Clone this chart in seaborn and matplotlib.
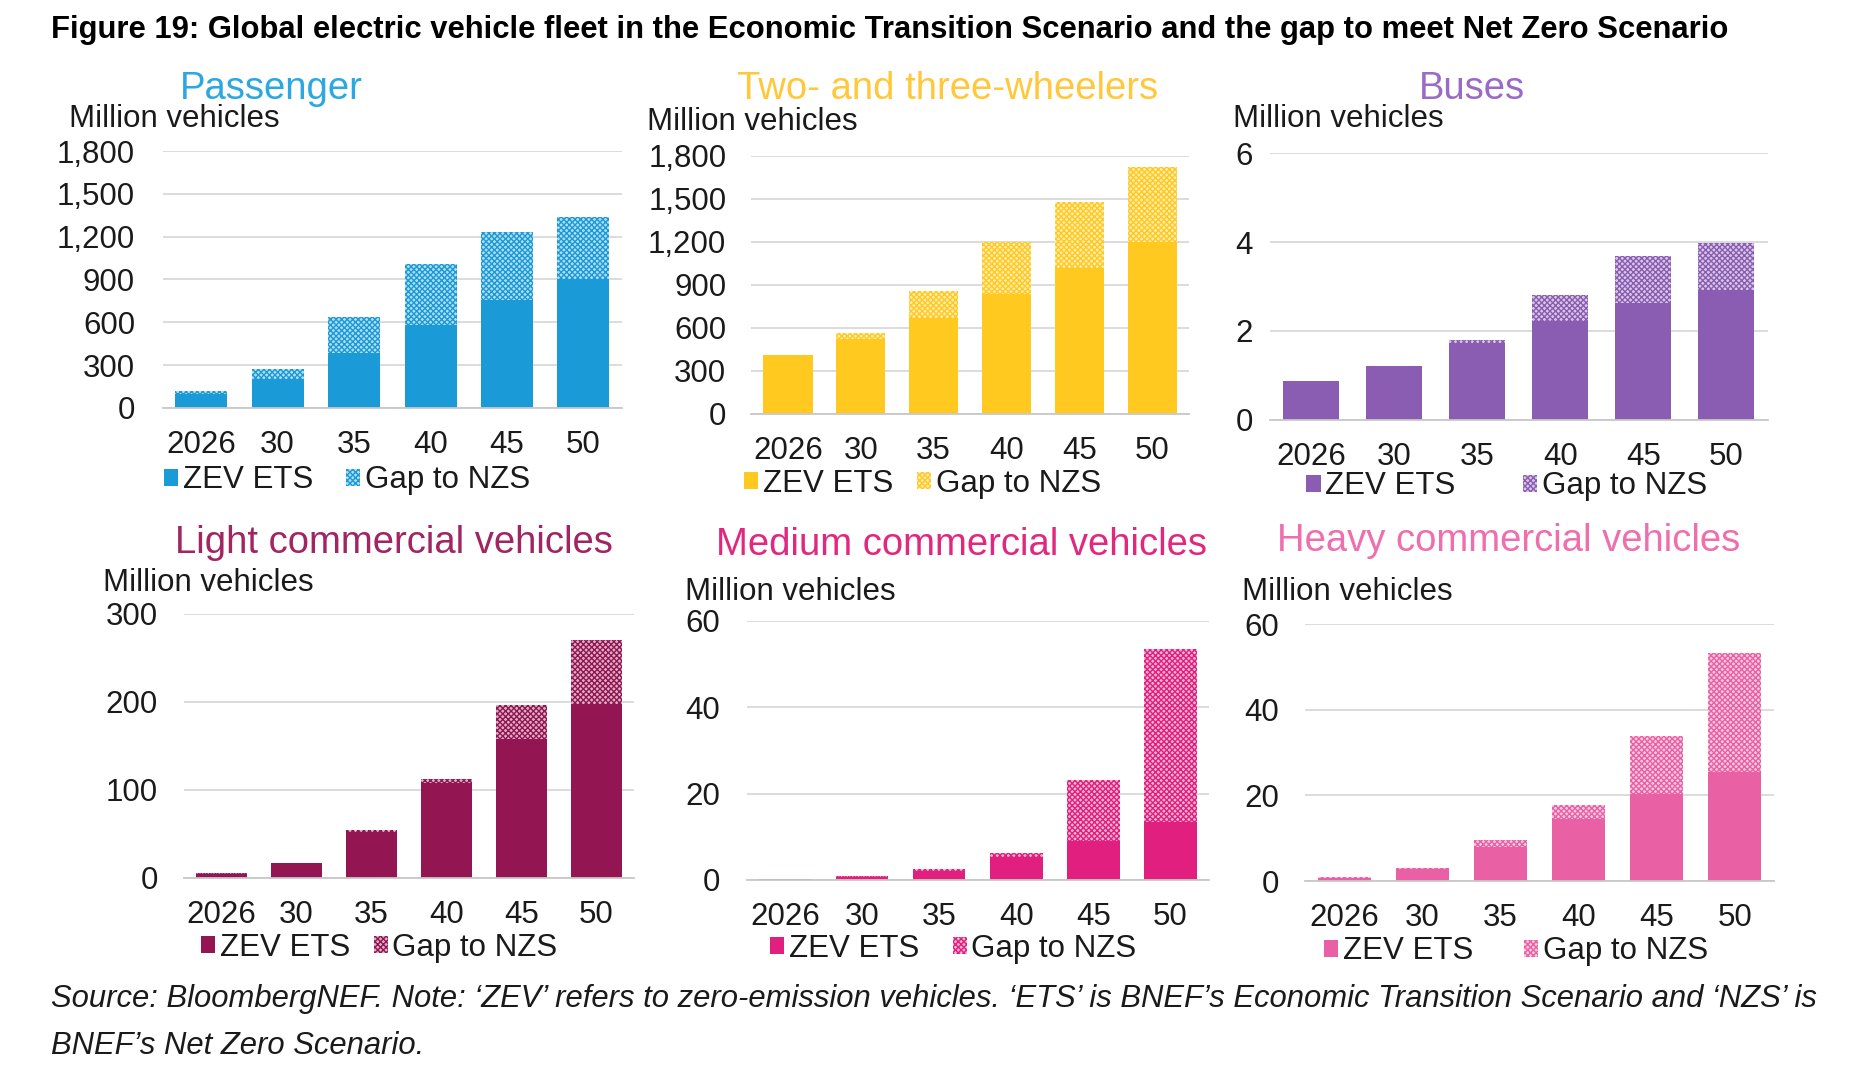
import numpy as np
import pandas as pd
import matplotlib
matplotlib.use("Agg")
import matplotlib.pyplot as plt
import seaborn as sns
from matplotlib.patches import Patch
from matplotlib.ticker import StrMethodFormatter, FixedLocator

# ================= data =================
years = ["2026", "30", "35", "40", "45", "50"]

passenger_zev = [95, 205, 385, 580, 755, 905]
passenger_gap = [20, 70, 250, 425, 480, 435]

wheelers_zev = [410, 520, 670, 835, 1020, 1200]
wheelers_gap = [0, 45, 190, 360, 460, 520]

buses_zev = [0.88, 1.2, 1.73, 2.22, 2.62, 2.92]
buses_gap = [0.0, 0.02, 0.07, 0.6, 1.06, 1.06]

lcv_zev = [4, 16, 52, 108, 158, 197]
lcv_gap = [1, 1, 2, 4, 38, 73]

mcv_zev = [0.2, 0.6, 2.0, 5.2, 8.9, 13.5]
mcv_gap = [0.1, 0.2, 0.5, 1.0, 14.3, 40.0]

hcv_zev = [0.8, 2.9, 8.0, 14.6, 20.4, 25.6]
hcv_gap = [0.1, 0.1, 1.5, 3.2, 13.4, 27.8]

titles = ["Passenger", "Two- and three-wheelers", "Buses",
          "Light commercial vehicles", "Medium commercial vehicles", "Heavy commercial vehicles"]
yticks_list = [[0, 300, 600, 900, 1200, 1500, 1800], [0, 300, 600, 900, 1200, 1500, 1800],
               [0, 2, 4, 6], [0, 100, 200, 300], [0, 20, 40, 60], [0, 20, 40, 60]]

# ================= style =================
sns.set_style("white")
plt.rcParams["font.family"] = ["Liberation Sans", "DejaVu Sans"]
plt.rcParams["hatch.linewidth"] = 1.0

W, H = 1568, 915  # coords measured on reduced reference


def fx(x):
    return x / W


def fy(y):
    return 1 - y / H


def tint(c, f=0.33):
    rgb = np.array(matplotlib.colors.to_rgb(c))
    return tuple(rgb * f + (1 - f))


# panel layout: grid left/right, top/zero y, title centre, MV label, tick pad, legend
panels = [
    dict(zev=passenger_zev, gap=passenger_gap, bar="#1A9AD7", tcol="#2BA8E0",
         box=(137, 523, 127, 343), tx=228, ty=75, mvx=58, mvy=100, pad=20, lx=138, ly=404, cs=28),
    dict(zev=wheelers_zev, gap=wheelers_gap, bar="#FFC91F", tcol="#FFC83A",
         box=(632, 1000, 131, 348), tx=797, ty=75, mvx=544, mvy=103, pad=18, lx=626, ly=407, cs=20),
    dict(zev=buses_zev, gap=buses_gap, bar="#8A5CB2", tcol="#9A6BC6",
         box=(1068, 1487, 129, 353), tx=1238, ty=75, mvx=1037, mvy=100, pad=12, lx=1099, ly=409, cs=57),
    dict(zev=lcv_zev, gap=lcv_gap, bar="#931552", tcol="#A02560",
         box=(155, 533, 516, 738), tx=331, ty=457, mvx=87, mvy=490, pad=19, lx=169, ly=797, cs=20),
    dict(zev=mcv_zev, gap=mcv_gap, bar="#E01F7E", tcol="#E0287F",
         box=(628, 1017, 522, 740), tx=809, ty=458, mvx=576, mvy=498, pad=19, lx=648, ly=798, cs=28),
    dict(zev=hcv_zev, gap=hcv_gap, bar="#E960A4", tcol="#EF6EAE",
         box=(1098, 1492, 525, 741), tx=1269, ty=455, mvx=1045, mvy=498, pad=19, lx=1114, ly=800, cs=43),
]

fs = 22.5
fig = plt.figure(figsize=(18.64, 10.88), dpi=100)

for p, title, yt in zip(panels, titles, yticks_list):
    l, r, t, b = p["box"]
    ax = fig.add_axes([fx(l), fy(b), (r - l) / W, (b - t) / H])
    df = pd.DataFrame({"year": years, "zev": p["zev"], "total": np.add(p["zev"], p["gap"])})
    # total bar hatched first, ZEV ETS bar drawn over it
    sns.barplot(data=df, x="year", y="total", color=tint(p["bar"]), saturation=1, width=0.68,
                hatch="xxxxxx", edgecolor=p["bar"], linewidth=0, errorbar=None, ax=ax)
    sns.barplot(data=df, x="year", y="zev", color=p["bar"], saturation=1, width=0.68,
                linewidth=0, errorbar=None, ax=ax)
    ax.set_xlim(-0.5, 5.5)
    ax.set_ylim(0, yt[-1])
    ax.set_yticks(yt)
    ax.yaxis.set_major_formatter(StrMethodFormatter("{x:,.0f}"))
    ax.set_xlabel("")
    ax.set_ylabel("")
    ax.grid(axis="y", color="#d9d9d9", linewidth=1.3)
    ax.set_axisbelow(True)
    for s in ["left", "top", "right"]:
        ax.spines[s].set_visible(False)
    ax.spines["bottom"].set_color("#c8c8c8")
    ax.spines["bottom"].set_linewidth(1.3)
    ax.xaxis.set_minor_locator(FixedLocator(np.arange(-0.5, 6, 1)))
    ax.tick_params(axis="x", which="major", length=0, pad=16, labelsize=fs, labelcolor="#1a1a1a")
    ax.tick_params(axis="x", which="minor", length=8, width=1.3, color="#c8c8c8", direction="out")
    ax.tick_params(axis="y", length=0, pad=p["pad"], labelsize=fs, labelcolor="#1a1a1a")

    fig.text(fx(p["tx"]), fy(p["ty"]), title, color=p["tcol"], fontsize=27.5, ha="center", va="center")
    fig.text(fx(p["mvx"]), fy(p["mvy"]), "Million vehicles", color="#1a1a1a", fontsize=fs,
             ha="left", va="center")
    handles = [Patch(facecolor=p["bar"], linewidth=0),
               Patch(facecolor=tint(p["bar"]), hatch="xxxxxx", edgecolor=p["bar"], linewidth=0)]
    fig.legend(handles, ["ZEV ETS", "Gap to NZS"], loc="center left",
               bbox_to_anchor=(fx(p["lx"]), fy(p["ly"])), ncol=2, frameon=False, fontsize=fs,
               handlelength=0.45, handleheight=0.45, handletextpad=0.15, borderaxespad=0,
               borderpad=0, columnspacing=p["cs"] * 1.1888 / (fs * 100 / 72),
               labelcolor="#1a1a1a")

fig.text(fx(43), fy(25),
         "Figure 19: Global electric vehicle fleet in the Economic Transition Scenario and the gap to meet Net Zero Scenario",
         fontsize=22.35, fontweight="bold", ha="left", va="center", color="black")
fig.text(fx(43), fy(840),
         "Source: BloombergNEF. Note: \u2018ZEV\u2019 refers to zero-emission vehicles. \u2018ETS\u2019 is BNEF\u2019s "
         "Economic Transition Scenario and \u2018NZS\u2019 is",
         fontsize=22.3, style="italic", ha="left", va="center", color="#1a1a1a")
fig.text(fx(43), fy(880), "BNEF\u2019s Net Zero Scenario.",
         fontsize=22.3, style="italic", ha="left", va="center", color="#1a1a1a")

fig.savefig("out.png", dpi=100, facecolor="white")
